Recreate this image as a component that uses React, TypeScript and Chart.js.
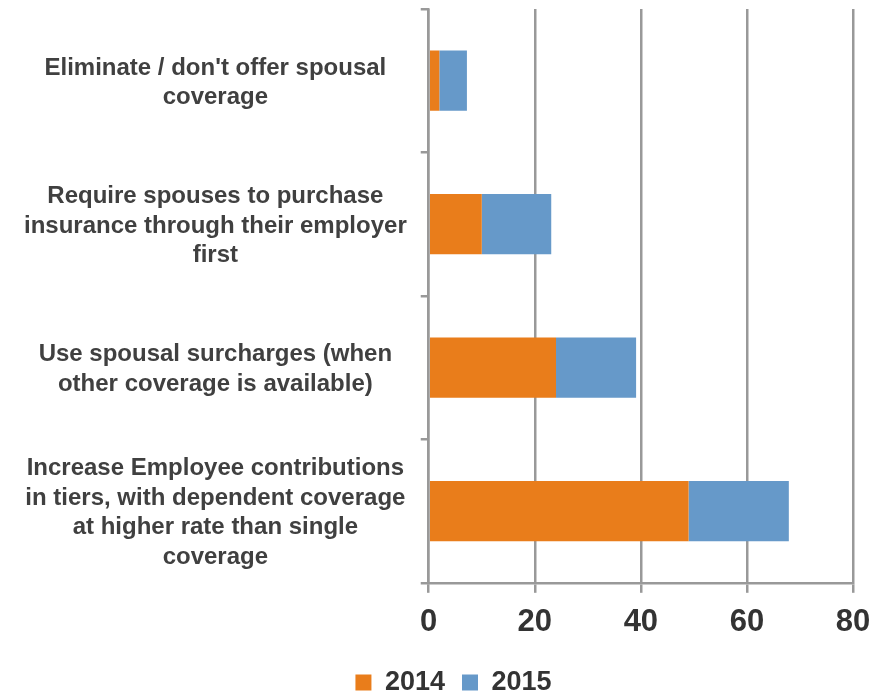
import React, { useEffect, useRef } from "react";
import { Chart, registerables } from "chart.js";

Chart.register(...registerables);

const categories: string[][] = [
  ["Eliminate / don't offer spousal", "coverage"],
  ["Require spouses to purchase", "insurance through their employer", "first"],
  ["Use spousal surcharges (when", "other coverage is available)"],
  ["Increase Employee contributions", "in tiers, with dependent coverage", "at higher rate than single", "coverage"],
];
const values2014: number[] = [2, 10, 24, 49];
const values2015: number[] = [5.2, 13.1, 15.1, 18.9];
const seriesNames: string[] = ["2014", "2015"];
const xTicks: number[] = [0, 20, 40, 60, 80];

const legendShift = {
  id: "legendShift",
  afterLayout(chart: any) {
    const l = chart.legend;
    if (l) {
      l.left += 22;
      l.right += 22;
    }
  },
};

export default function App() {
  const ref = useRef<HTMLCanvasElement | null>(null);
  useEffect(() => {
    document.body.style.margin = "0";
    if (!ref.current) return;
    const grey = "#999999";
    const chart = new Chart(ref.current, {
      type: "bar",
      data: {
        labels: categories,
        datasets: [
          { label: seriesNames[0], data: values2014, backgroundColor: "#E97D1B", borderWidth: 0 },
          { label: seriesNames[1], data: values2015, backgroundColor: "#6699C9", borderWidth: 0 },
        ],
      },
      plugins: [legendShift],
      options: {
        indexAxis: "y",
        animation: false,
        responsive: false,
        maintainAspectRatio: false,
        layout: { padding: { top: 9, right: 18, left: 10, bottom: -13 } },
        datasets: { bar: { barPercentage: 0.42, categoryPercentage: 1 } },
        scales: {
          x: {
            stacked: true,
            min: 0,
            max: 80,
            afterBuildTicks: (axis: any) => {
              axis.ticks = xTicks.map((v) => ({ value: v }));
            },
            afterFit: (axis: any) => {
              axis.paddingRight = 0;
              axis.paddingLeft = 0;
            },
            grid: { color: grey, lineWidth: 2.5, tickLength: 10, drawOnChartArea: true },
            border: { display: true, color: grey, width: 2.5 },
            ticks: {
              color: "#333333",
              padding: 11,
              font: { family: "Liberation Sans, Arial, sans-serif", size: 31, weight: "bold" },
            },
          },
          y: {
            stacked: true,
            afterFit: (axis: any) => {
              axis.paddingTop = 0;
              axis.paddingBottom = 0;
            },
            grid: { color: grey, lineWidth: 2.5, tickLength: 8, drawOnChartArea: false, offset: true },
            border: { display: true, color: grey, width: 2.5 },
            ticks: {
              color: "#404040",
              padding: 14,
              labelOffset: 2,
              crossAlign: "center",
              font: { family: "Liberation Sans, Arial, sans-serif", size: 24, weight: "bold", lineHeight: 1.23 },
            },
          },
        },
        plugins: {
          tooltip: { enabled: false },
          legend: {
            position: "bottom",
            labels: {
              boxWidth: 16,
              boxHeight: 16,
              padding: 17,
              color: "#333333",
              font: { family: "Liberation Sans, Arial, sans-serif", size: 27, weight: "bold" },
            },
          },
        },
      },
    });
    return () => chart.destroy();
  }, []);
  return (
    <div style={{ width: 871, height: 693 }}>
      <canvas ref={ref} width={871} height={693} style={{ display: "block" }} />
    </div>
  );
}
